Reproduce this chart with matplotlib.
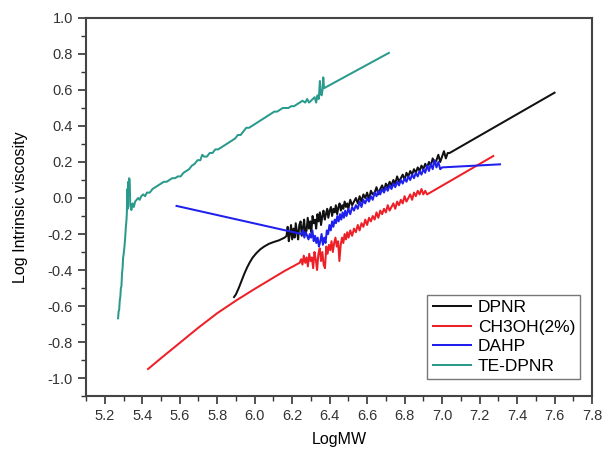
import matplotlib
matplotlib.use("Agg")
import matplotlib.pyplot as plt
from matplotlib.ticker import MultipleLocator, FormatStrFormatter

plt.rcParams["font.family"] = ["Liberation Sans", "DejaVu Sans"]
plt.rcParams["axes.unicode_minus"] = False

# DPNR (black): smooth rise, noisy band, straight tail
dpnr_x = [5.890, 5.900, 5.915, 5.930, 5.945, 5.960, 5.975, 5.990, 6.010, 6.030,
          6.050, 6.075, 6.100, 6.130, 6.160,
          6.170, 6.176, 6.182, 6.188, 6.194, 6.200, 6.207, 6.213, 6.219, 6.226,
          6.232, 6.238, 6.245, 6.251, 6.258, 6.264, 6.270, 6.277, 6.283, 6.290,
          6.296, 6.302, 6.309, 6.315, 6.322, 6.328, 6.335, 6.341, 6.348, 6.354,
          6.361, 6.367, 6.374, 6.380, 6.387, 6.393, 6.400, 6.407, 6.413, 6.420,
          6.427, 6.433, 6.440, 6.447, 6.453, 6.460, 6.467, 6.473, 6.480, 6.487,
          6.494, 6.500, 6.510, 6.520, 6.530, 6.540, 6.550, 6.560, 6.570, 6.580,
          6.590, 6.600, 6.610, 6.620, 6.630, 6.640, 6.650, 6.660, 6.670, 6.680,
          6.690, 6.700, 6.710, 6.720, 6.730, 6.740, 6.750, 6.760, 6.770, 6.780,
          6.790, 6.800, 6.810, 6.820, 6.830, 6.840, 6.850, 6.860, 6.870, 6.880,
          6.890, 6.900, 6.910, 6.920, 6.930, 6.940, 6.950, 6.960, 6.970, 6.980,
          6.990, 7.000, 7.010, 7.020, 7.030, 7.040,
          7.600]
dpnr_y = [-0.55, -0.535, -0.50, -0.46, -0.42, -0.385, -0.355, -0.33, -0.305, -0.285,
          -0.27, -0.255, -0.245, -0.235, -0.22,
          -0.21, -0.16, -0.24, -0.20, -0.15, -0.23, -0.17, -0.22, -0.14, -0.19,
          -0.23, -0.15, -0.13, -0.21, -0.16, -0.12, -0.20, -0.18, -0.11, -0.17,
          -0.13, -0.19, -0.10, -0.14, -0.12, -0.17, -0.09, -0.13, -0.08, -0.15,
          -0.10, -0.07, -0.12, -0.09, -0.06, -0.11, -0.07, -0.05, -0.10, -0.06,
          -0.08, -0.04, -0.09, -0.05, -0.03, -0.07, -0.04, -0.06, -0.02, -0.05,
          -0.03, -0.06, -0.01, -0.04, -0.02, 0.00, -0.03, 0.01, -0.02, 0.02,
          0.00, 0.03, -0.01, 0.04, 0.02, 0.03, 0.06, 0.02, 0.05, 0.07,
          0.04, 0.08, 0.06, 0.09, 0.07, 0.10, 0.08, 0.12, 0.09, 0.11,
          0.13, 0.10, 0.14, 0.12, 0.15, 0.13, 0.16, 0.14, 0.17, 0.15,
          0.18, 0.16, 0.19, 0.17, 0.20, 0.18, 0.22, 0.19, 0.21, 0.24,
          0.20, 0.23, 0.26, 0.22, 0.25, 0.25,
          0.585]

# CH3OH(2%) (red)
meoh_x = [5.431, 5.500, 5.600, 5.700, 5.800, 5.900, 6.000, 6.080, 6.160,
          6.240, 6.248, 6.255, 6.262, 6.270, 6.277, 6.284, 6.291, 6.298, 6.305,
          6.312, 6.319, 6.326, 6.333, 6.340, 6.347, 6.354, 6.361, 6.368, 6.375,
          6.382, 6.389, 6.396, 6.403, 6.410, 6.417, 6.424, 6.431, 6.438, 6.445,
          6.452, 6.459, 6.466, 6.473, 6.480, 6.487, 6.494, 6.501, 6.510, 6.520,
          6.530, 6.540, 6.550, 6.560, 6.570, 6.580, 6.590, 6.600, 6.610, 6.620,
          6.630, 6.640, 6.650, 6.660, 6.670, 6.680, 6.690, 6.700, 6.710, 6.720,
          6.730, 6.740, 6.750, 6.760, 6.770, 6.780, 6.790, 6.800, 6.810, 6.820,
          6.830, 6.840, 6.850, 6.860, 6.870, 6.880, 6.890, 6.900, 6.910, 6.920,
          7.273]
meoh_y = [-0.95, -0.89, -0.805, -0.72, -0.64, -0.57, -0.505, -0.455, -0.405,
          -0.36, -0.34, -0.37, -0.32, -0.36, -0.33, -0.38, -0.31, -0.35, -0.33,
          -0.39, -0.30, -0.34, -0.40, -0.31, -0.28, -0.35, -0.30, -0.37, -0.39,
          -0.27, -0.31, -0.26, -0.29, -0.24, -0.30, -0.25, -0.22, -0.27, -0.24,
          -0.35, -0.26, -0.22, -0.25, -0.20, -0.23, -0.19, -0.22, -0.18, -0.21,
          -0.17, -0.19, -0.15, -0.18, -0.14, -0.16, -0.12, -0.15, -0.11, -0.13,
          -0.10, -0.12, -0.08, -0.11, -0.07, -0.09, -0.06, -0.08, -0.04, -0.07,
          -0.05, -0.03, -0.06, -0.02, -0.04, -0.01, -0.03, 0.01, -0.02, 0.00,
          0.02, -0.01, 0.03, 0.01, 0.04, 0.02, 0.05, 0.02, 0.04, 0.02,
          0.233]

# DAHP (blue)
dahp_x = [5.583,
          6.250, 6.258, 6.265, 6.272, 6.280, 6.287, 6.294, 6.301, 6.308, 6.315,
          6.322, 6.329, 6.336, 6.343, 6.350, 6.357, 6.364, 6.371, 6.378, 6.385,
          6.392, 6.399, 6.406, 6.413, 6.420, 6.427, 6.434, 6.441, 6.448, 6.455,
          6.462, 6.469, 6.476, 6.483, 6.490, 6.500, 6.510, 6.520, 6.530, 6.540,
          6.550, 6.560, 6.570, 6.580, 6.590, 6.600, 6.610, 6.620, 6.630, 6.640,
          6.650, 6.660, 6.670, 6.680, 6.690, 6.700, 6.710, 6.720, 6.730, 6.740,
          6.750, 6.760, 6.770, 6.780, 6.790, 6.800, 6.810, 6.820, 6.830, 6.840,
          6.850, 6.860, 6.870, 6.880, 6.890, 6.900, 6.910, 6.920, 6.930, 6.940,
          6.950, 6.960, 6.970, 6.980, 6.990, 7.000,
          7.309]
dahp_y = [-0.044,
          -0.20, -0.18, -0.22, -0.19, -0.21, -0.23, -0.20, -0.22, -0.18, -0.24,
          -0.21, -0.25, -0.22, -0.27, -0.24, -0.20, -0.26, -0.22, -0.25, -0.18,
          -0.20, -0.15, -0.18, -0.13, -0.16, -0.12, -0.14, -0.10, -0.13, -0.09,
          -0.12, -0.08, -0.11, -0.07, -0.10, -0.06, -0.09, -0.05, -0.07, -0.04,
          -0.06, -0.02, -0.05, -0.01, -0.03, 0.00, -0.02, 0.01, -0.01, 0.03,
          0.01, 0.04, 0.02, 0.05, 0.03, 0.06, 0.04, 0.07, 0.05, 0.08,
          0.06, 0.09, 0.07, 0.10, 0.08, 0.11, 0.09, 0.12, 0.10, 0.13,
          0.11, 0.14, 0.12, 0.15, 0.13, 0.16, 0.14, 0.18, 0.15, 0.19,
          0.16, 0.21, 0.17, 0.20, 0.16, 0.17,
          0.187]

# TE-DPNR (teal)
te_x = [5.271, 5.274, 5.277, 5.280, 5.283, 5.286, 5.289, 5.292, 5.295, 5.298,
        5.301, 5.305, 5.309, 5.312, 5.316, 5.318, 5.320, 5.322, 5.325, 5.328,
        5.330, 5.333, 5.336, 5.342, 5.348, 5.355, 5.362, 5.370, 5.378, 5.386,
        5.395, 5.405, 5.415, 5.425, 5.440, 5.455, 5.470, 5.485, 5.500, 5.515,
        5.530, 5.545, 5.560, 5.575, 5.590, 5.605, 5.620, 5.635, 5.650, 5.665,
        5.680, 5.695, 5.710, 5.720, 5.730, 5.745, 5.760, 5.775, 5.790, 5.805,
        5.820, 5.835, 5.850, 5.865, 5.880, 5.895, 5.910, 5.925, 5.940, 5.955,
        5.970, 5.985, 6.000, 6.015, 6.030, 6.045, 6.060, 6.075, 6.090, 6.105,
        6.120, 6.135, 6.150, 6.165, 6.180, 6.195, 6.210, 6.225, 6.240, 6.255,
        6.270, 6.280, 6.290, 6.300, 6.310, 6.320, 6.328, 6.335, 6.342, 6.348,
        6.352, 6.357, 6.362, 6.366, 6.370, 6.716]
te_y = [-0.668, -0.63, -0.62, -0.57, -0.55, -0.50, -0.49, -0.42, -0.39, -0.33,
        -0.31, -0.27, -0.22, -0.17, -0.12, -0.08, 0.05, -0.06, 0.09, 0.06,
        0.11, 0.10, -0.04, -0.067, -0.03, -0.05, -0.02, -0.01, 0.00, -0.01,
        0.01, 0.02, 0.01, 0.03, 0.03, 0.05, 0.06, 0.07, 0.08, 0.09,
        0.09, 0.10, 0.11, 0.11, 0.12, 0.12, 0.14, 0.15, 0.16, 0.18,
        0.19, 0.21, 0.21, 0.24, 0.23, 0.23, 0.25, 0.25, 0.27, 0.27,
        0.28, 0.29, 0.30, 0.31, 0.32, 0.33, 0.35, 0.35, 0.37, 0.39,
        0.39, 0.40, 0.41, 0.42, 0.43, 0.44, 0.45, 0.46, 0.47, 0.48,
        0.48, 0.49, 0.50, 0.50, 0.50, 0.51, 0.51, 0.52, 0.53, 0.54,
        0.53, 0.55, 0.53, 0.54, 0.55, 0.56, 0.53, 0.57, 0.55, 0.65,
        0.58, 0.57, 0.60, 0.67, 0.61, 0.806]

x_ticks = [5.2, 5.4, 5.6, 5.8, 6.0, 6.2, 6.4, 6.6, 6.8, 7.0, 7.2, 7.4, 7.6, 7.8]

fig = plt.figure(figsize=(6.02, 4.53), dpi=100)
ax = fig.add_axes([0.1429, 0.1258, 0.8405, 0.8345])

lw = 1.45
ax.plot(dpnr_x, dpnr_y, color="#111111", lw=lw, label="DPNR")
ax.plot(meoh_x, meoh_y, color="#ee2027", lw=lw, label="CH3OH(2%)")
ax.plot(dahp_x, dahp_y, color="#1f1fee", lw=lw, label="DAHP")
ax.plot(te_x, te_y, color="#2a9a8c", lw=lw, label="TE-DPNR")

ax.set_xlim(5.1, 7.8)
ax.set_ylim(-1.1, 1.0)
ax.set_xticks(x_ticks)
ax.xaxis.set_minor_locator(MultipleLocator(0.1))
ax.yaxis.set_major_locator(MultipleLocator(0.2))
ax.yaxis.set_minor_locator(MultipleLocator(0.1))
ax.xaxis.set_major_formatter(FormatStrFormatter("%.1f"))
ax.yaxis.set_major_formatter(FormatStrFormatter("%.1f"))
ax.tick_params(which="major", direction="out", length=6, width=1.2,
               labelsize=10.5, colors="#333333", top=False, right=False)
ax.tick_params(which="minor", direction="out", length=3.5, width=1.0,
               colors="#333333", top=False, right=False)
for sp in ax.spines.values():
    sp.set_color("#444444")
    sp.set_linewidth(1.5)

ax.set_xlabel("LogMW", fontsize=11.5, labelpad=6)
ax.set_ylabel("Log Intrinsic viscosity", fontsize=11.5, labelpad=14)

leg = ax.legend(loc="lower right", bbox_to_anchor=(0.977, 0.045),
                borderaxespad=0, fontsize=12.5, handlelength=2.2,
                handletextpad=0.4, labelspacing=0.25, borderpad=0.3,
                fancybox=False, framealpha=1)
leg.get_frame().set_edgecolor("#777777")
leg.get_frame().set_linewidth(1.0)

fig.savefig("out.png", dpi=100)
